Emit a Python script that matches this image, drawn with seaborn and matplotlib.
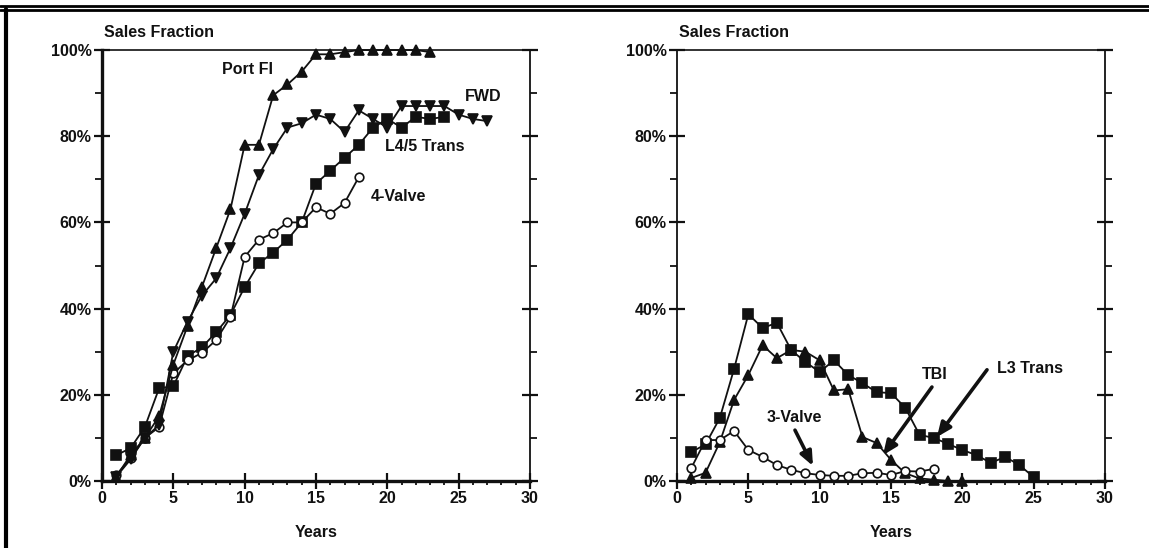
import numpy as np
import matplotlib
matplotlib.use('Agg')
import matplotlib.pyplot as plt
from matplotlib.ticker import MultipleLocator, PercentFormatter
from matplotlib.lines import Line2D
import pandas as pd
import seaborn as sns

# lewy panel - udzial w sprzedazy nowych technologii
port_fi_years = list(range(1, 24))
port_fi = [1, 6, 10, 15, 27, 36, 45, 54, 63, 78, 78, 89.5, 92, 95, 99, 99, 99.5,
           100, 100, 100, 100, 100, 99.5]
fwd_years = list(range(1, 28))
fwd = [1, 5, 10, 13, 30, 37, 43, 47, 54, 62, 71, 77, 82, 83, 85, 84, 81, 86, 84,
       82, 87, 87, 87, 87, 85, 84, 83.5]
l45_years = list(range(1, 25))
l45_trans = [6, 7.6, 12.5, 21.5, 22, 29, 31, 34.5, 38.5, 45, 50.5, 53, 56, 60,
             69, 72, 75, 78, 82, 84, 82, 84.5, 84, 84.5]
v4_years = list(range(1, 19))
valve4 = [1.4, 5.3, 10, 12.5, 25, 28, 29.7, 32.7, 38, 52, 56, 57.5, 60, 60,
          63.5, 62, 64.5, 70.5]

# prawy panel - technologie wypierane
l3_years = list(range(1, 26))
l3_trans = [6.7, 8.5, 14.6, 26, 38.7, 35.5, 36.7, 30.4, 27.6, 25.3, 28, 24.6,
            22.7, 20.6, 20.4, 17, 10.7, 10, 8.6, 7.2, 6, 4.2, 5.6, 3.7, 0.9]
tbi_years = list(range(1, 21))
tbi = [0.7, 1.9, 9, 18.8, 24.6, 31.5, 28.5, 30.4, 30, 28, 21, 21.3, 10.2, 8.8,
       4.9, 1.8, 0.6, 0.3, 0, 0]
v3_years = list(range(1, 19))
valve3 = [3, 9.5, 9.5, 11.6, 7.2, 5.6, 3.7, 2.6, 1.8, 1.4, 1.2, 1.2, 1.8, 1.9,
          1.4, 2.3, 2.2, 2.8]

sns.set_style('ticks')
plt.rcParams['font.family'] = ['Liberation Sans', 'DejaVu Sans']
plt.rcParams['font.weight'] = 'bold'

ink = '#111111'
fig = plt.figure(figsize=(11.49, 5.48), dpi=100)
W, H = 1149, 548
ax1 = fig.add_axes([102 / W, 67 / H, 428 / W, 431 / H])
ax2 = fig.add_axes([677 / W, 67 / H, 428 / W, 431 / H])


def seria(ax, x, y, marker, ms, open_=False):
    kw = dict(color=ink, lw=1.3, marker=marker, markersize=ms,
              markeredgecolor=ink, markeredgewidth=1.2, clip_on=False)
    if open_:
        kw['markerfacecolor'] = 'white'
    sns.lineplot(x=x, y=y, ax=ax, **kw)


seria(ax1, l45_years, l45_trans, 's', 6.5)
seria(ax1, v4_years, valve4, 'o', 6.2, open_=True)
seria(ax1, fwd_years, fwd, 'v', 7)
seria(ax1, port_fi_years, port_fi, '^', 7)

seria(ax2, l3_years, l3_trans, 's', 6.5)
seria(ax2, tbi_years, tbi, '^', 7)
seria(ax2, v3_years, valve3, 'o', 6.2, open_=True)

for ax, lw_left in ((ax1, 2.4), (ax2, 1.3)):
    ax.set_xlim(0, 30)
    ax.set_ylim(0, 100)
    ax.xaxis.set_major_locator(MultipleLocator(5))
    ax.xaxis.set_minor_locator(MultipleLocator(1))
    ax.yaxis.set_major_locator(MultipleLocator(20))
    ax.yaxis.set_minor_locator(MultipleLocator(10))
    ax.yaxis.set_major_formatter(PercentFormatter(xmax=100, decimals=0))
    ax.tick_params(axis='both', which='major', direction='inout', length=11,
                   width=1.6, colors=ink, labelsize=11.5, pad=2)
    ax.tick_params(axis='y', which='minor', direction='out', length=5, width=1.3,
                   colors=ink)
    ax.tick_params(axis='x', which='minor', direction='out', length=3, width=1.3,
                   colors=ink)
    ax.tick_params(axis='y', which='both', right=True)
    for lab in ax.get_xticklabels() + ax.get_yticklabels():
        lab.set_fontweight('bold')
    ax.spines['left'].set_linewidth(lw_left)
    ax.spines['bottom'].set_linewidth(2.4)
    ax.spines['top'].set_linewidth(1.2)
    ax.spines['right'].set_linewidth(1.3)
    for s in ax.spines.values():
        s.set_color(ink)
        s.set_zorder(5)
    ax.set_xlabel('Years', fontsize=11.5, fontweight='bold', color=ink)
    ax.xaxis.set_label_coords(0.5, -0.102)
    ax.set_ylabel('')
    ax.text(0.005, 1.04, 'Sales Fraction', transform=ax.transAxes, fontsize=11.5,
            fontweight='bold', color=ink, ha='left', va='center')

# opisy serii - lewy panel
etykiety = dict(fontsize=11.5, fontweight='bold', color=ink, ha='center', va='center')
ax1.text(10.23, 95.4, 'Port FI', **etykiety)
ax1.text(26.7, 89.3, 'FWD', **etykiety)
ax1.text(22.6, 77.5, 'L4/5 Trans', **etykiety)
ax1.text(20.75, 66.1, '4-Valve', **etykiety)

# opisy ze strzalkami - prawy panel
strzalka = dict(arrowstyle='-|>,head_length=0.7,head_width=0.3', color=ink, lw=2.6,
                mutation_scale=12, shrinkA=0, shrinkB=0)
ax2.text(8.2, 14.8, '3-Valve', **etykiety)
ax2.annotate('', xy=(9.53, 3.5), xytext=(8.27, 11.8), arrowprops=strzalka)
ax2.text(18.08, 24.8, 'TBI', **etykiety)
ax2.annotate('', xy=(14.44, 6.0), xytext=(17.87, 21.8), arrowprops=strzalka)
ax2.text(24.74, 26.2, 'L3 Trans', **etykiety)
ax2.annotate('', xy=(18.22, 10.2), xytext=(21.73, 25.8), arrowprops=strzalka)

# ramka dokumentu (podwojna linia u gory, gruba z lewej)
fig.add_artist(Line2D([0, 1], [1 - 5.5 / H, 1 - 5.5 / H], color='black', lw=2.0,
                      transform=fig.transFigure))
fig.add_artist(Line2D([0, 1], [1 - 9.5 / H, 1 - 9.5 / H], color='black', lw=2.0,
                      transform=fig.transFigure))
fig.add_artist(Line2D([5.5 / W, 5.5 / W], [0, 1 - 9 / H], color='black', lw=3.0,
                      transform=fig.transFigure))

fig.savefig('out.png', dpi=100)
